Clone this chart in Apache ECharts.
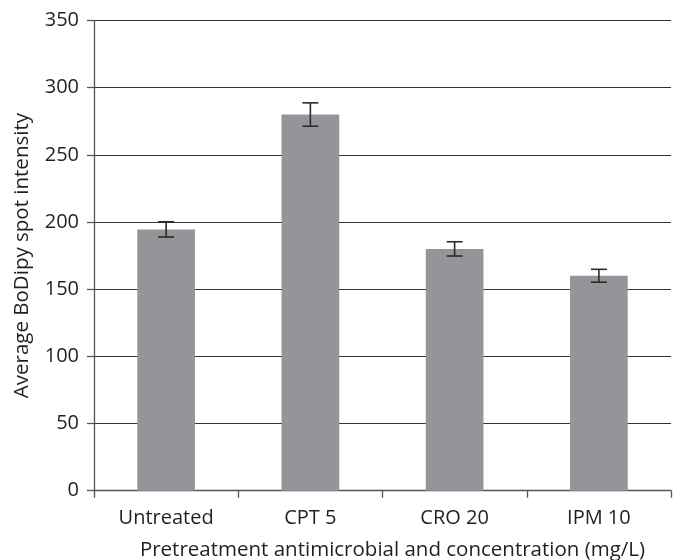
<!DOCTYPE html>
<html>
<head>
<meta charset="utf-8">
<script src="https://cdn.jsdelivr.net/npm/echarts@6/dist/echarts.min.js"></script>
<style>
  html, body { margin: 0; padding: 0; background: #fff; }
  #chart { width: 679px; height: 560px; }
</style>
</head>
<body>
<div id="chart"></div>
<script>
// Pretreatment groups and their mean BoDipy spot intensity with error (±)
var categories = ['Untreated', 'CPT 5', 'CRO 20', 'IPM 10'];
var meanIntensity = [194.5, 280, 180, 160];
var errorHalf = [5.7, 8.7, 5.3, 4.8];
var yTicks = { min: 0, max: 350, interval: 50 };

var FONT = '"Open Sans", "DejaVu Sans", sans-serif';
var TEXT = '#231f20';

var errorData = categories.map(function (c, i) {
  return [i, meanIntensity[i] - errorHalf[i], meanIntensity[i] + errorHalf[i]];
});

var chart = echarts.init(document.getElementById('chart'), null, { renderer: 'canvas' });
chart.setOption({
  animation: false,
  backgroundColor: '#ffffff',
  grid: { left: 94, right: 8, top: 20.5, bottom: 69.3, containLabel: false, outerBoundsMode: 'none' },
  xAxis: {
    type: 'category',
    data: categories,
    name: 'Pretreatment antimicrobial and concentration (mg/L)',
    nameLocation: 'middle',
    nameGap: 49,
    nameTextStyle: { fontFamily: FONT, fontSize: 20.5, color: TEXT, padding: [0, 0, 0, 20] },
    axisLine: { show: true, lineStyle: { color: '#555', width: 1.3 } },
    axisTick: { show: true, alignWithLabel: false, length: 7, lineStyle: { color: '#555', width: 1.3 } },
    axisLabel: { fontFamily: FONT, fontSize: 20, color: TEXT, margin: 18 },
    splitLine: { show: false }
  },
  yAxis: {
    type: 'value',
    min: yTicks.min,
    max: yTicks.max,
    interval: yTicks.interval,
    name: 'Average BoDipy spot intensity',
    nameLocation: 'middle',
    nameGap: 61,
    nameTextStyle: { fontFamily: FONT, fontSize: 20.5, color: TEXT },
    axisLine: { show: true, lineStyle: { color: '#555', width: 1.3 } },
    axisTick: { show: true, inside: false, length: 7, lineStyle: { color: '#555', width: 1.3 } },
    axisLabel: { fontFamily: FONT, fontSize: 20, color: TEXT, margin: 15 },
    splitLine: { show: true, lineStyle: { color: '#333', width: 1.2 } }
  },
  series: [
    {
      type: 'bar',
      data: meanIntensity,
      barWidth: '40%',
      itemStyle: { color: '#939598' },
      z: 2
    },
    {
      type: 'custom',
      data: errorData,
      z: 5,
      renderItem: function (params, api) {
        var x = api.value(0);
        var lo = api.coord([x, api.value(1)]);
        var hi = api.coord([x, api.value(2)]);
        var hw = 8;
        var style = { stroke: '#2b2b2b', lineWidth: 1.6 };
        return {
          type: 'group',
          children: [
            { type: 'line', shape: { x1: hi[0], y1: hi[1], x2: lo[0], y2: lo[1] }, style: style },
            { type: 'line', shape: { x1: hi[0] - hw, y1: hi[1], x2: hi[0] + hw, y2: hi[1] }, style: style },
            { type: 'line', shape: { x1: lo[0] - hw, y1: lo[1], x2: lo[0] + hw, y2: lo[1] }, style: style }
          ]
        };
      }
    }
  ]
});
</script>
</body>
</html>
